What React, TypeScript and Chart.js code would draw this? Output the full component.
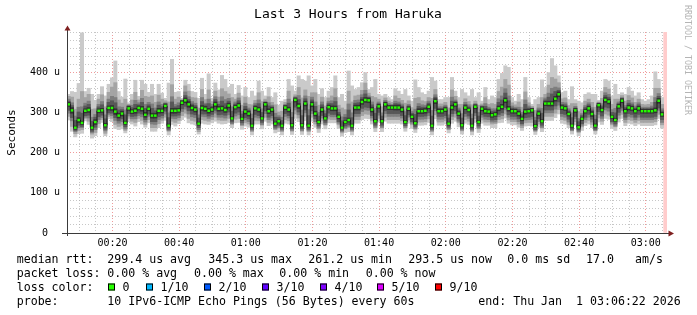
import React, { useEffect, useRef } from "react";
import { Chart, registerables } from "chart.js";

Chart.register(...registerables);

// ---- data (microseconds), one value per minute, 00:06:22 .. 03:06:22 ----
const medianRtt: (number | null)[] = [
  320,305,262,281,274,304,306,262,276,304, 305,268,311,311,302,292,297,274,310,302,
  304,311,309,294,309,292,292,304,304,316, 267,304,304,305,324,330,320,311,307,272,
  311,309,304,307,320,
  309,310,306,317,285,313,317,284,302,297, 267,310,307,285,320,303,307,272,278,267,
  312,307,268,331,316,268,322,267,320,297, 276,307,285,313,310,310,289,262,276,281,
  267,312,312,326,331,
  330,307,278,315,278,320,312,312,312,312, 307,276,309,289,273,303,303,304,314,267,
  328,303,303,307,272,312,320,297,268,312, 306,267,314,276,309,303,302,293,295,310,
  314,330,309,303,303,
  297,284,302,303,305,266,297,278,322,322, 322,334,345,312,310,296,267,305,263,284,
  303,310,296,267,318,306,331,327,289,281, 315,329,303,312,310,303,310,303,303,303,
  303,305,329,295,
  null,
];

// smoke extents relative to the median: ping10 above / ping1 below
const smokeUp1 = [
  25,47,88,91,224,48,54,83,54,41, 59,73,59,75,126,60,41,109,14,43, 76,29,71,76,41,78,53,66,44,19,
  106,128,46,47,11,50,50,41,43,63, 74,36,92,28,53,
  47,82,76,45,85,32,50,57,60,40, 86,31,71,68,21,59,30,77,40,61, 20,75,98,22,75,114,56,124,46,85,
  69,52,52,40,52,81,48,83,52,122, 99,45,50,48,68,
  27,55,104,30,63,25,25,20,47,41, 38,81,32,39,108,59,46,41,39,120, 50,29,29,30,65,75,33,40,89,37,
  35,90,23,73,19,59,30,48,42,72, 83,86,103,34,25,
  48,48,85,34,15,66,40,103,40,77, 112,82,46,37,43,36,97,27,65,40, 42,39,49,78,12,47,51,51,52,89,
  30,20,42,50,43,38,39,29,25,29, 38,96,53,42,
];
const smokeDown1 = [
  39,52,23,34,26,25,36,26,34,42, 30,26,27,34,42,35,38,25,33,31, 38,34,38,31,35,39,39,42,31,36,
  23,34,38,33,42,42,46,40,38,26, 38,38,34,33,42,
  36,39,34,42,23,39,42,26,36,34, 23,39,36,26,42,36,36,23,26,23, 39,36,23,46,39,23,42,23,42,34,
  26,36,26,39,36,36,29,21,26,29, 23,39,39,44,46,
  46,36,26,39,26,42,39,39,39,39, 36,23,36,29,23,35,35,35,39,23, 44,35,35,36,23,39,42,33,22,39,
  36,23,39,26,36,35,34,31,33,36, 39,44,36,34,34,
  34,29,36,36,39,21,34,26,42,42, 42,47,49,39,39,34,21,36,21,29, 36,39,34,21,42,36,46,44,29,26,
  39,44,36,39,39,36,39,36,36,36, 36,36,44,34,
];
// ping9 / ping2
const smokeUp2 = [
  20,33,46,52,78,33,39,46,33,29, 39,46,39,52,72,39,26,59,10,29, 46,20,46,46,29,49,33,39,29,13,
  59,65,29,33,8,36,33,26,29,39, 46,23,52,20,33,
  29,49,46,29,52,20,31,34,36,23, 52,20,42,42,13,36,18,47,23,36, 13,46,59,13,46,68,34,73,29,52,
  42,31,31,23,31,49,29,49,31,72, 59,29,31,29,42,
  18,33,59,18,36,16,16,13,29,23, 23,47,20,23,62,34,26,23,23,68, 29,18,18,18,39,44,20,23,52,22,
  21,52,14,42,12,34,18,29,25,42, 49,52,59,21,16,
  29,29,49,21,10,39,23,59,23,46, 65,49,29,22,26,21,55,17,39,23, 25,23,29,46,8,29,31,31,31,52,
  18,13,25,30,26,22,23,17,16,17, 22,55,31,25,
];
const smokeDown2 = [
  30,40,15,26,17,19,28,16,26,32, 23,20,21,26,32,27,29,19,25,24, 29,26,29,24,27,30,30,32,24,28,
  14,26,29,25,32,32,35,31,29,20, 29,29,26,25,32,
  28,30,26,32,15,30,32,17,28,26, 15,30,28,17,32,28,28,15,17,15, 30,28,15,35,30,15,32,15,32,26,
  17,28,17,30,28,28,20,13,17,19, 15,30,30,34,35,
  35,28,17,30,17,32,30,30,30,30, 28,15,28,20,15,27,27,27,30,15, 34,27,27,28,15,30,32,23,14,30,
  28,15,30,17,28,27,26,22,23,28, 30,34,28,26,26,
  26,22,28,28,30,13,26,17,32,32, 32,36,38,30,30,26,13,28,13,20, 28,30,26,13,32,28,35,34,20,17,
  30,34,28,30,30,28,30,28,28,28, 28,28,34,26,
];
// ping8 / ping3
const smokeUp3 = [
  13,19,29,32,40,19,22,26,19,16, 22,26,22,29,35,22,16,32,8,16, 26,13,26,26,16,29,19,22,16,8,
  32,35,16,19,6,21,19,16,16,22, 26,14,29,13,19,
  18,29,26,18,29,13,19,19,21,14, 29,13,24,24,8,21,11,26,14,21, 8,26,32,8,26,38,19,40,18,29,
  24,19,19,14,19,27,18,27,19,40, 32,18,19,18,24,
  11,19,32,11,21,10,10,8,16,14, 14,26,11,14,35,19,16,14,14,38, 16,11,11,11,22,26,11,14,29,13,
  13,29,8,24,8,19,11,16,14,24, 27,29,32,13,10,
  16,16,29,13,6,22,14,32,14,26, 38,29,16,13,14,13,32,10,22,13, 14,14,16,26,5,16,18,18,18,29,
  11,8,14,18,14,13,14,10,10,10, 13,32,18,14,
];
const smokeDown3 = [
  22,26,10,19,12,16,20,12,19,22, 18,14,16,19,22,19,20,15,19,18, 20,19,20,18,19,21,22,22,18,20,
  12,19,20,18,22,22,24,22,20,15, 21,20,19,18,22,
  21,22,20,23,13,22,23,15,21,20, 12,22,21,15,23,21,21,13,15,12, 22,21,13,25,22,13,23,12,23,20,
  15,21,15,22,21,21,16,10,15,16, 12,22,22,24,25,
  25,21,15,22,15,23,22,22,22,22, 21,13,21,16,13,20,20,20,22,12, 24,20,20,21,13,22,23,19,12,22,
  21,12,22,15,21,20,20,17,19,21, 22,24,21,20,20,
  20,16,21,21,22,12,20,15,23,23, 23,26,27,22,22,20,12,21,11,16, 21,22,20,12,23,21,25,24,16,15,
  22,24,21,22,22,21,22,21,21,21, 21,21,24,20,
];
// ping7 / ping4
const smokeUp4 = [
  8,12,18,20,24,12,14,16,12,10, 14,16,14,18,22,14,10,20,6,10, 16,8,16,16,10,18,12,14,10,6,
  20,22,10,12,4,12,12,10,10,14, 16,10,18,8,12,
  11,18,16,11,18,8,12,12,13,9, 18,8,15,15,5,13,7,16,9,13, 5,16,20,5,16,24,12,25,11,18,
  15,12,12,9,12,17,11,17,12,25, 20,11,12,11,15,
  7,12,20,7,13,6,6,5,10,9, 9,16,7,9,22,12,10,9,9,24, 10,7,7,7,14,16,7,9,18,8,
  8,18,5,15,5,12,7,10,9,15, 17,18,20,8,6,
  10,10,18,8,4,14,9,20,9,16, 24,18,10,8,9,8,20,6,14,8, 9,9,10,16,3,10,11,11,11,18,
  7,5,9,11,9,8,9,6,6,6, 8,20,11,9,
];
const smokeDown4 = [
  15,18,7,13,9,12,13,9,13,15, 12,10,12,13,15,13,13,10,13,12, 13,13,13,12,13,15,15,15,12,13,
  9,13,13,12,15,15,16,15,13,10, 15,13,13,12,15,
  15,15,13,16,9,15,16,10,15,13, 9,15,15,10,16,15,15,9,10,9, 15,15,9,18,15,9,16,9,16,13,
  10,15,10,15,15,15,12,7,10,12, 9,15,15,16,18,
  18,15,10,15,10,16,15,15,15,15, 15,9,15,12,9,13,13,13,15,9, 18,13,13,15,9,15,16,13,9,15,
  15,9,15,10,15,13,13,12,13,15, 15,18,15,13,13,
  13,12,15,15,15,9,13,10,16,16, 16,18,19,15,15,13,9,15,7,12, 15,15,13,9,16,15,18,16,12,10,
  15,18,15,15,15,15,15,15,15,15, 15,15,18,13,
];
// ping6 / ping5 (half spread)
const smokeCore = [
  5,7,4,6,4,5,6,4,6,5, 5,5,5,6,7,6,6,4,5,5, 6,5,6,6,5,6,6,6,5,5,
  4,6,6,5,5,6,7,6,6,4, 6,6,6,5,6,
  6,6,6,6,4,5,6,4,6,6, 4,5,6,4,5,6,5,4,4,4, 5,6,4,5,6,4,6,4,6,6,
  4,6,4,5,6,6,5,3,4,5, 4,6,6,6,6,
  6,6,4,5,4,5,5,5,6,6, 6,4,5,5,4,6,6,6,5,4, 6,5,5,5,4,6,5,5,4,5,
  5,4,5,4,5,6,5,5,5,6, 6,6,6,5,5,
  6,5,6,5,5,4,5,4,5,6, 6,6,6,5,5,5,4,5,4,4, 5,5,6,4,5,5,6,6,4,4,
  5,5,5,6,5,5,5,5,5,5, 5,6,6,5,
];

const xTickLabels = ["00:20", "00:40", "01:00", "01:20", "01:40", "02:00", "02:20", "02:40", "03:00"];
const yTickValues = [0, 100, 200, 300, 400];
const startClock = "00:06:22";
const spanMinutes = 180;
const minorStepMinutes = 5;
const yMinorStep = 20;
const yMax = 500;

const smokeColors = ["#cacaca", "#a4a4a4", "#7e7e7e", "#585858", "#323232"];
const lossLabels = ["0", "1/10", "2/10", "3/10", "4/10", "5/10", "9/10"];
const lossColors = ["#26ff00", "#00b8ff", "#0059ff", "#5e00ff", "#7e00ff", "#dd00ff", "#ff0000"];

const titleText = "Last 3 Hours from Haruka";
const statsRtt = ["299.4 us avg", "345.3 us max", "261.2 us min", "293.5 us now", "0.0 ms sd", "17.0", "am/s"];
const statsLoss = ["0.00 % avg", "0.00 % max", "0.00 % min", "0.00 % now"];
const probeText = "10 IPv6-ICMP Echo Pings (56 Bytes) every 60s";
const endText = "end: Thu Jan  1 03:06:22 2026";

// ---- helpers ----
const clockToMin = (s: string) => {
  const p = s.split(":").map(Number);
  return p[0] * 60 + p[1] + (p[2] || 0) / 60;
};
const startMin = clockToMin(startClock);
const majorX = xTickLabels.map((l) => clockToMin(l) - startMin);
const minorX: number[] = [];
for (let t = Math.ceil(startMin / minorStepMinutes) * minorStepMinutes; t <= startMin + spanMinutes; t += minorStepMinutes) {
  minorX.push(t - startMin);
}
const isMajorX = (v: number) => majorX.some((m) => Math.abs(m - v) < 1e-6);

function band(lo: number[], hi: number[]) {
  const out: { x: number; y: [number, number] }[] = [];
  medianRtt.forEach((m, k) => {
    if (m == null) return;
    out.push({ x: k + 0.5, y: [m - lo[k], m + hi[k]] });
  });
  return out;
}

const MONO = '"DejaVu Sans Mono", monospace';
const GREEN_HALF = 3; // half height of the loss-colour mark, in us

const rrdPlugin = {
  id: "rrdDecor",
  afterDraw(chart: any) {
    const { ctx, chartArea: a } = chart;
    ctx.save();
    const L = Math.floor(a.left) + 0.5;
    const B = Math.floor(a.bottom) + 0.5;
    // axes
    ctx.strokeStyle = "#3a3a3a";
    ctx.lineWidth = 1;
    ctx.beginPath();
    ctx.moveTo(a.left - 5, B);
    ctx.lineTo(a.right + 2, B);
    ctx.moveTo(L, a.bottom + 3);
    ctx.lineTo(L, a.top - 2);
    ctx.stroke();
    ctx.fillStyle = "#7f1f1f";
    ctx.beginPath();
    ctx.moveTo(a.right + 7, B);
    ctx.lineTo(a.right + 1.5, B - 3);
    ctx.lineTo(a.right + 1.5, B + 3);
    ctx.closePath();
    ctx.fill();
    ctx.beginPath();
    ctx.moveTo(L, a.top - 6.5);
    ctx.lineTo(L - 3, a.top - 1.5);
    ctx.lineTo(L + 3, a.top - 1.5);
    ctx.closePath();
    ctx.fill();

    // title
    ctx.fillStyle = "#000";
    ctx.textBaseline = "alphabetic";
    ctx.textAlign = "center";
    ctx.font = `13px ${MONO}`;
    ctx.fillText(titleText, 348, 18);

    // watermark
    ctx.save();
    ctx.translate(685, 5);
    ctx.rotate(Math.PI / 2);
    ctx.textAlign = "left";
    ctx.fillStyle = "#b4b4b4";
    ctx.font = `8.3px ${MONO}`;
    ctx.fillText("RRDTOOL / TOBI OETIKER", 0, 0);
    ctx.restore();

    // legend
    ctx.textAlign = "left";
    ctx.fillStyle = "#000";
    ctx.font = `11.6px ${MONO}`;
    const rows = [263, 277, 291, 305];
    ctx.fillText("median rtt:", 16.7, rows[0]);
    const rttX = [107.3, 208.3, 308.3, 408.3, 507.3, 586, 635];
    statsRtt.forEach((s, i) => ctx.fillText(s, rttX[i], rows[0]));
    ctx.fillText("packet loss:", 16.7, rows[1]);
    const lossX = [107.3, 194, 279.3, 365.7];
    statsLoss.forEach((s, i) => ctx.fillText(s, lossX[i], rows[1]));
    ctx.fillText("loss color:", 16.7, rows[2]);
    const boxX = [108, 146, 204, 262, 320, 377, 435];
    lossLabels.forEach((l, i) => {
      ctx.fillStyle = lossColors[i];
      ctx.fillRect(boxX[i], rows[2] - 7.5, 7, 7);
      ctx.strokeStyle = "#000";
      ctx.strokeRect(boxX[i] + 0.5, rows[2] - 7, 6, 6);
      ctx.fillStyle = "#000";
      ctx.fillText(l, boxX[i] + 14.5, rows[2]);
    });
    ctx.fillText("probe:", 16.7, rows[3]);
    ctx.fillText(probeText, 107.3, rows[3]);
    ctx.fillText(endText, 478.3, rows[3]);
    ctx.restore();
  },
};

export default function App() {
  const ref = useRef<HTMLCanvasElement | null>(null);

  useEffect(() => {
    if (!ref.current) return;
    const lines = medianRtt
      .map((m, k) => (m == null ? null : { x: k + 0.5, y: m }))
      .filter(Boolean) as { x: number; y: number }[];
    const greenHalf = medianRtt.map(() => GREEN_HALF);
    const green = band(greenHalf, greenHalf);
    const unknown = medianRtt
      .map((m, k) => (m == null ? { x: k + 0.5, y: [0, yMax] } : null))
      .filter(Boolean);

    const barCommon = {
      type: "bar" as const,
      barPercentage: 1,
      categoryPercentage: 1,
      grouped: false,
      borderWidth: 0,
    };

    const chart = new Chart(ref.current, {
      type: "bar",
      data: {
        datasets: [
          { ...barCommon, barPercentage: 0.78, data: green as any, backgroundColor: lossColors[0] },
          {
            type: "line",
            data: lines as any,
            borderColor: "#181818",
            borderWidth: 1,
            pointRadius: 0,
            stepped: "middle",
            fill: false,
          } as any,
          { ...barCommon, data: band(smokeCore, smokeCore) as any, backgroundColor: smokeColors[4] },
          { ...barCommon, data: band(smokeDown4, smokeUp4) as any, backgroundColor: smokeColors[3] },
          { ...barCommon, data: band(smokeDown3, smokeUp3) as any, backgroundColor: smokeColors[2] },
          { ...barCommon, data: band(smokeDown2, smokeUp2) as any, backgroundColor: smokeColors[1] },
          { ...barCommon, data: band(smokeDown1, smokeUp1) as any, backgroundColor: smokeColors[0] },
          { ...barCommon, data: unknown as any, backgroundColor: "#ffcccc" },
        ] as any,
      },
      options: {
        responsive: false,
        animation: false,
        events: [],
        layout: { padding: { top: 32, right: 30, left: 0, bottom: 0 } },
        plugins: {
          legend: { display: false },
          tooltip: { enabled: false },
          title: { display: false },
        },
        scales: {
          x: {
            type: "linear",
            min: 0,
            max: spanMinutes,
            offset: false,
            afterBuildTicks: (s: any) => {
              s.ticks = minorX.map((v) => ({ value: v }));
            },
            afterFit: (s: any) => {
              s.height = 82;
            },
            grid: {
              offset: false,
              drawTicks: false,
              lineWidth: 1,
              color: (c: any) => (c.tick && isMajorX(c.tick.value) ? "rgba(235,120,120,0.75)" : "rgba(175,175,175,0.7)"),
            },
            border: { display: false, dash: [1, 2] },
            ticks: {
              autoSkip: false,
              maxRotation: 0,
              padding: 4,
              color: "#000",
              font: { family: MONO, size: 10 },
              callback: (v: any) => {
                const i = majorX.findIndex((m) => Math.abs(m - Number(v)) < 1e-6);
                return i >= 0 ? xTickLabels[i] : "";
              },
            },
          },
          y: {
            type: "linear",
            min: 0,
            max: yMax,
            afterBuildTicks: (s: any) => {
              const t = [];
              for (let v = 0; v <= yMax; v += yMinorStep) t.push({ value: v });
              s.ticks = t;
            },
            afterFit: (s: any) => {
              s.width = 67;
            },
            grid: {
              drawTicks: false,
              lineWidth: 1,
              color: (c: any) => {
                const v = c.tick ? c.tick.value : -1;
                if (v === 0) return "rgba(0,0,0,0)";
                return yTickValues.includes(v) ? "rgba(235,120,120,0.75)" : "rgba(175,175,175,0.7)";
              },
            },
            border: { display: false, dash: [1, 2] },
            title: {
              display: true,
              text: "Seconds",
              color: "#000",
              font: { family: MONO, size: 11 },
              padding: { top: 6, bottom: 0 },
            },
            ticks: {
              autoSkip: false,
              padding: 7,
              color: "#000",
              font: { family: MONO, size: 10 },
              callback: (v: any) => {
                const n = Number(v);
                if (!yTickValues.includes(n)) return "";
                return n === 0 ? "0  " : `${n} u`;
              },
            },
          },
        },
      } as any,
      plugins: [rrdPlugin],
    });
    return () => chart.destroy();
  }, []);

  return (
    <div style={{ position: "absolute", left: 0, top: 0, width: 697, height: 315, background: "#fff" }}>
      <canvas ref={ref} width={697} height={315} style={{ width: 697, height: 315, display: "block" }} />
    </div>
  );
}
